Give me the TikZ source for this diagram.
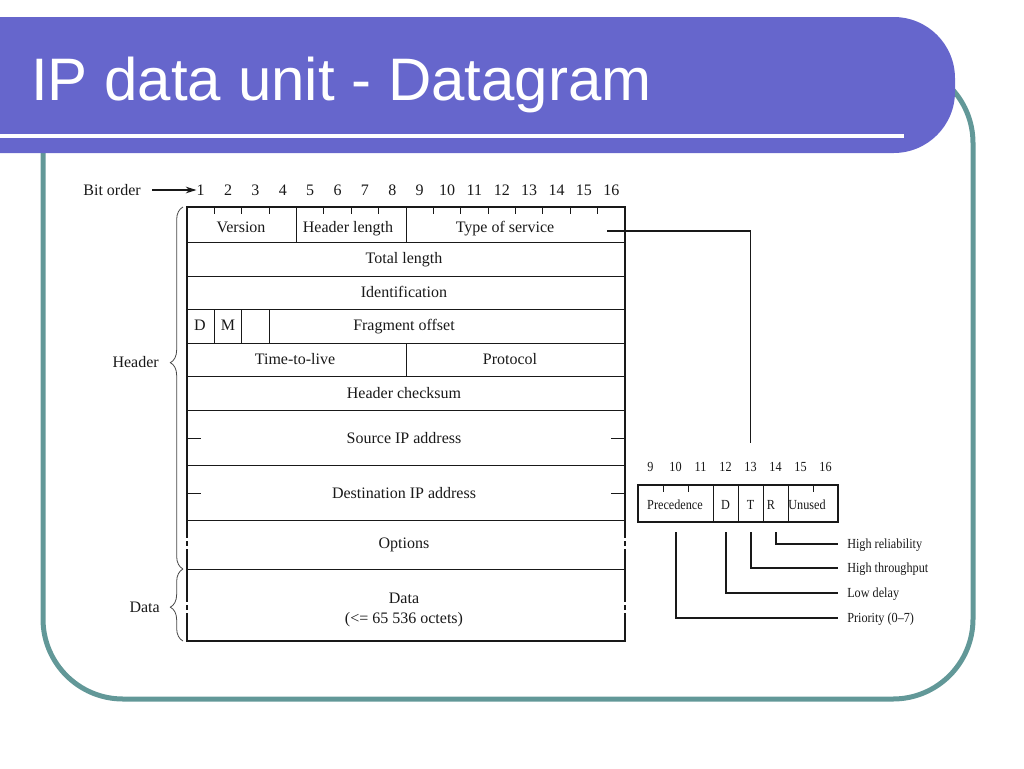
\documentclass[tikz,border=0pt]{standalone}
\usepackage{fontspec}
\setmainfont{Liberation Serif}
\newfontfamily\titlefont{Liberation Sans}
\newfontfamily\condserif[FakeStretch=0.88]{Liberation Serif}
\usetikzlibrary{decorations.pathreplacing,arrows.meta}
\definecolor{bannerblue}{RGB}{102,102,204}
\definecolor{frameteal}{RGB}{98,152,152}
\definecolor{ink}{RGB}{25,25,25}
\begin{document}
\begin{tikzpicture}[x=0.75pt,y=-0.75pt,
  lbl/.style={font=\fontsize{12}{14}\selectfont, inner sep=0pt, text=ink, anchor=base},
  sml/.style={font=\condserif\fontsize{10.4}{12}\selectfont, inner sep=0pt, text=ink, anchor=base},
  rowline/.style={draw=ink, line width=0.7pt},
  border/.style={draw=ink, line width=1.4pt, line cap=rect},
  conn/.style={draw=ink, line width=0.8pt},
  bracestyle/.style={draw=ink!80, line width=0.6pt, decorate},
]
\useasboundingbox (0,0) rectangle (1024,768);
% frame and banner
\draw[frameteal, line width=3.75pt, rounded corners=60pt] (43,63) rectangle (973,699);
\fill[bannerblue] (0,153) -- (0,17) [rounded corners=46pt] -- (955,17) -- (955,153) [sharp corners] -- cycle;
\draw[white, line width=3pt] (0,136) -- (904,136);
\node[anchor=base west, inner sep=0pt, text=white, font=\titlefont\fontsize{45}{50}\selectfont] (title) at (31,100) {IP data unit - Datagram};

% bit order
\node[lbl, anchor=base east] (bitorder) at (141,195) {Bit order};
\foreach \i in {1,...,16} {
  \node[lbl] (b\i) at ({187+(\i-0.5)*27.375},195) {\i};
}
\coordinate (arrS) at (152,190);
\draw[conn, -{Stealth[length=8pt,width=5pt]}] (arrS) -- (b1.west |- arrS);

% table lines
\foreach \y in {242,276,309,343,376,410,465,520,569} \draw[rowline] (187,\y) -- (625,\y);
\draw[border] (187,207) -- (625,207);
\draw[border] (187,641) -- (625,641);
\foreach \x in {187,625} {
  \draw[border] (\x,207) -- (\x,537);
  \draw[border] (\x,542) -- (\x,545);
  \draw[border] (\x,550) -- (\x,601);
  \draw[border] (\x,606) -- (\x,609);
  \draw[border] (\x,614) -- (\x,641);
}
\foreach \x in {296.5,406} \draw[rowline] (\x,207) -- (\x,242);
\foreach \x in {214.4,241.75,269.1} \draw[rowline] (\x,309) -- (\x,343);
\draw[rowline] (406,343) -- (406,376);
\foreach \k in {1,2,3,5,6,7,9,10,11,12,13,14,15} \draw[rowline] ({187+\k*27.375},207) -- ({187+\k*27.375},214);
\foreach \y in {438,493} { \draw[rowline] (187,\y) -- (201,\y); \draw[rowline] (611,\y) -- (625,\y); }

% table texts
\node[lbl] (version) at (241,232) {Version};
\node[lbl] (hlen) at (348,232) {Header length};
\node[lbl] (tos) at (505,232) {Type of service};
\node[lbl] (tlen) at (404,263) {Total length};
\node[lbl] (ident) at (404,297) {Identification};
\node[lbl] (fD) at (200,330) {D};
\node[lbl] (fM) at (228,330) {M};
\node[lbl] (frag) at (404,330) {Fragment offset};
\node[lbl] (ttl) at (295,364) {Time-to-live};
\node[lbl] (proto) at (510,364) {Protocol};
\node[lbl] (cks) at (404,398) {Header checksum};
\node[lbl] (src) at (404,443) {Source IP address};
\node[lbl] (dst) at (404,498) {Destination IP address};
\node[lbl] (opt) at (404,548) {Options};
\node[lbl] (data) at (404,603) {Data};
\node[lbl] (octets) at (404,623) {(<= 65 536 octets)};

% braces
\draw[bracestyle, decoration={brace, amplitude=9.5pt, aspect=0.57}] (183,569) -- (183,207);
\draw[bracestyle, decoration={brace, amplitude=9.5pt, aspect=0.47}] (183,641) -- (183,569);
\node[lbl, anchor=base east] (hdr) at (159,367) {Header};
\node[lbl, anchor=base east] (dat) at (160,612) {Data};

% TOS connector
\coordinate (tosEnd) at (607,231);
\coordinate (tosDrop) at (750.5,443);
\draw[conn] (tosEnd) -| (tosDrop);

% TOS box
\draw[border, line width=1.2pt] (638,485) rectangle (838,522);
\foreach \x in {713,738,763,788} \draw[rowline] (\x,485) -- (\x,522);
\foreach \x in {663,688,813} \draw[rowline] (\x,485) -- (\x,492);
\foreach \i in {9,...,16} \node[sml] (t\i) at ({650.5+(\i-9)*25},471.5) {\i};
\node[sml] (prec) at (675,509.5) {Precedence};
\node[sml] (tD) at (725.5,509.5) {D};
\node[sml] (tT) at (750.5,509.5) {T};
\node[sml] (tR) at (771,509.5) {R};
\node[sml] (unused) at (807,509.5) {Unused};

% legend
\node[sml, anchor=base west] (hr) at (847,548.5) {High reliability};
\node[sml, anchor=base west] (ht) at (847,572.5) {High throughput};
\node[sml, anchor=base west] (ld) at (847,597.5) {Low delay};
\node[sml, anchor=base west] (pr) at (847,622.5) {Priority (0–7)};
\coordinate (rS) at (776,532); \coordinate (rE) at (838,544);
\coordinate (tS) at (751,532); \coordinate (tE) at (838,568);
\coordinate (dS) at (726,532); \coordinate (dE) at (838,593);
\coordinate (pS) at (676,532); \coordinate (pE) at (838,618);
\draw[conn] (rS) |- (rE);
\draw[conn] (tS) |- (tE);
\draw[conn] (dS) |- (dE);
\draw[conn] (pS) |- (pE);
\end{tikzpicture}
\end{document}
